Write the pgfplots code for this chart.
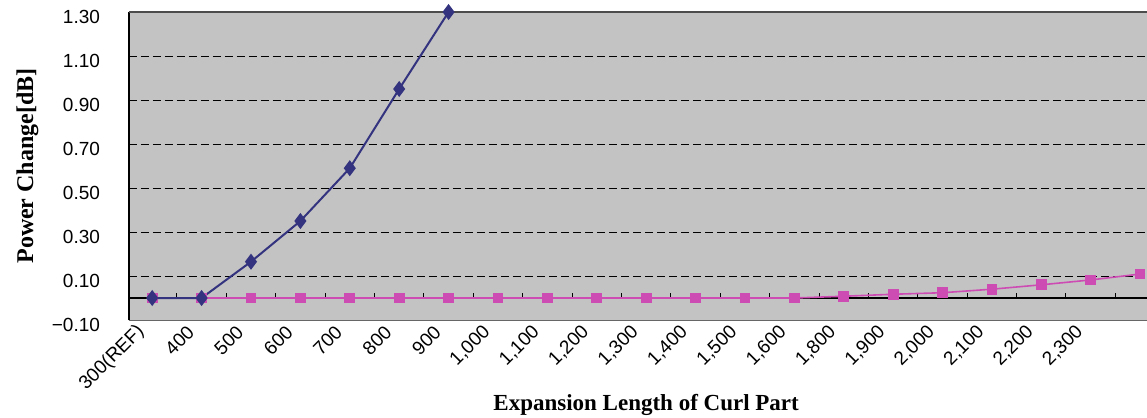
\documentclass[border=0pt]{standalone}
\usepackage{pgfplots}
\pgfplotsset{compat=1.18}
\usepackage{fontspec}
\setmainfont{Liberation Serif}
\setsansfont{Liberation Sans}
\definecolor{bgray}{HTML}{C3C3C3}
\definecolor{navy}{HTML}{33337F}
\definecolor{pinkc}{HTML}{CC4CB4}
\begin{document}
\begin{tikzpicture}
\begin{axis}[
  name=ax,
  scale only axis, width=509pt, height=154pt,
  xmin=-0.47, xmax=20.14, ymin=-0.1, ymax=1.3,
  clip=false,
  axis background/.style={fill=bgray},
  axis line style={draw=none},
  major tick length=0pt,
  xtick={0,...,19},
  xticklabels={300(REF),400,500,600,700,800,900,{1,000},{1,100},{1,200},{1,300},{1,400},{1,500},{1,600},{1,800},{1,900},{2,000},{2,100},{2,200},{2,300}},
  ytick={-0.1,0.1,0.3,0.5,0.7,0.9,1.1,1.3},
  yticklabels={−0.10,0.10,0.30,0.50,0.70,0.90,1.10,1.30},
  ymajorgrids,
  grid style={black, dash pattern=on 4pt off 2pt, line width=0.5pt},
  extra y ticks={0},
  extra y tick labels={},
  extra y tick style={grid=major, grid style={solid, black, line width=0.6pt}},
  tick label style={font=\sffamily\fontsize{9.5}{10}\selectfont},
  xticklabel style={xshift=-3pt, yshift=-2pt, rotate=45, anchor=east},
  yticklabel style={xshift=-11pt, yshift=-2.5pt, anchor=east},
  xlabel={Expansion Length of Curl Part},
  ylabel={Power Change[dB]},
  xlabel style={font=\bfseries\fontsize{11.5}{13}\selectfont, at={(axis description cs:0.508,-0.2922)}, anchor=base},
  ylabel style={font=\bfseries\fontsize{12}{13}\selectfont, at={(axis description cs:-0.0943,0.5)}, anchor=base},
]
\draw[black, line width=0.7pt] (rel axis cs:0,0) -- (rel axis cs:0,1);
\draw[gray!60!black, line width=0.6pt] (rel axis cs:0,1) -- (rel axis cs:1,1);
\draw[gray!80!black, line width=0.5pt] (rel axis cs:0,0) -- (rel axis cs:1,0);
\pgfplotsinvokeforeach{0.5,1.5,...,19.5}{\draw[black, line width=0.5pt] (axis cs:#1,0) -- ++(0pt,2.5pt);}
\addplot[pinkc, line width=0.8pt, mark=square*, mark size=2.3pt, mark options={solid, fill=pinkc}] coordinates {
(0,0)(1,0)(2,0)(3,0)(4,0)(5,0)(6,0)(7,0)(8,0)(9,0)(10,0)(11,0)(12,0)(13,0)
(14,0.008)(15,0.017)(16,0.024)(17,0.04)(18,0.06)(19,0.082)(20,0.109)};
\addplot[navy, line width=1pt, mark=diamond*, mark size=3.2pt, mark options={solid, fill=navy}] coordinates {
(0,0)(1,0)(2,0.165)(3,0.35)(4,0.59)(5,0.95)(6,1.30)};
\end{axis}
\pgfresetboundingbox
\path[use as bounding box] ([xshift=-64.5pt, yshift=-49pt]ax.south west) rectangle ([yshift=6pt]ax.north east);
\end{tikzpicture}
\end{document}
